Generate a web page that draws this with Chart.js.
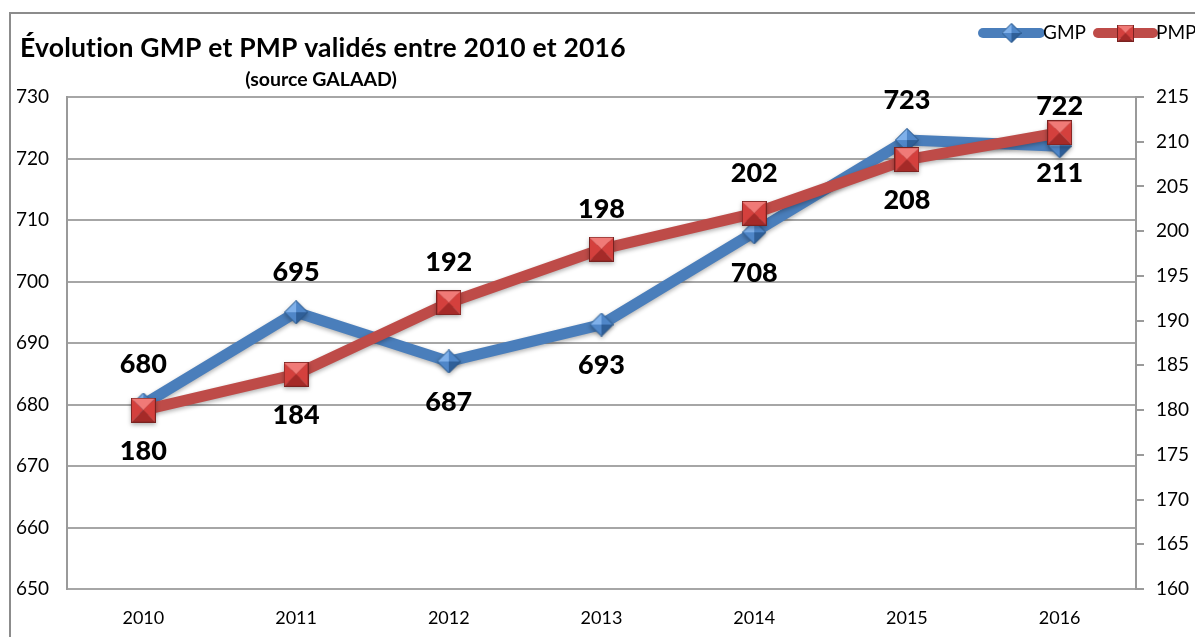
<!DOCTYPE html>
<html>
<head>
<meta charset="utf-8">
<script src="https://cdn.jsdelivr.net/npm/chart.js@4/dist/chart.umd.min.js"></script>
<style>
  html, body { margin: 0; padding: 0; background: #fff; }
  #wrap { width: 1195px; height: 637px; }
</style>
</head>
<body>
<div id="wrap"><canvas id="chart"></canvas></div>
<script>
(function () {
    "use strict";

    const years = ["2010", "2011", "2012", "2013", "2014", "2015", "2016"];
    const gmpValues = [680, 695, 687, 693, 708, 723, 722];
    const pmpValues = [180, 184, 192, 198, 202, 208, 211];
    const gmpLabelSide = ["above", "above", "below", "below", "below", "above", "above"];
    const pmpLabelSide = ["below", "below", "above", "above", "above", "below", "below"];

    const FONT = "Lato, Carlito, 'Open Sans', sans-serif";
    const BLUE = "#4a7ebb";
    const RED = "#be4b48";

    // beveled markers, like the office-style ones
    function makeMarker(shape, size, light, mid, dark, edge) {
        const c = document.createElement("canvas");
        c.width = size;
        c.height = size;
        const g = c.getContext("2d");
        const h = size / 2;
        const tri = (pts, color) => {
            g.beginPath();
            g.moveTo(pts[0], pts[1]);
            g.lineTo(pts[2], pts[3]);
            g.lineTo(h, h);
            g.closePath();
            g.fillStyle = color;
            g.fill();
        };
        if (shape === "square") {
            tri([0, 0, size, 0], light);
            tri([0, 0, 0, size], mid);
            tri([size, 0, size, size], mid);
            tri([0, size, size, size], dark);
            g.strokeStyle = edge;
            g.lineWidth = 1;
            g.strokeRect(0.5, 0.5, size - 1, size - 1);
        } else {
            tri([h, 0, 0, h], light);
            tri([h, 0, size, h], mid);
            tri([size, h, h, size], dark);
            tri([0, h, h, size], mid);
            g.beginPath();
            g.moveTo(h, 0.5);
            g.lineTo(size - 0.5, h);
            g.lineTo(h, size - 0.5);
            g.lineTo(0.5, h);
            g.closePath();
            g.strokeStyle = edge;
            g.lineWidth = 1;
            g.stroke();
        }
        return c;
    }

    const diamond = makeMarker("diamond", 24, "#7fb0ea", "#4f86c8", "#2f5f98", "#2a5686");
    const square = makeMarker("square", 25, "#f07a77", "#d4403d", "#a52a28", "#7a2220");
    const diamondSmall = makeMarker("diamond", 20, "#7fb0ea", "#4f86c8", "#2f5f98", "#2a5686");
    const squareSmall = makeMarker("square", 17, "#f07a77", "#d4403d", "#a52a28", "#7a2220");

    const framePlugin = {
        id: "frame",
        beforeDraw(chart) {
            const ctx = chart.ctx;
            ctx.save();
            ctx.fillStyle = "#fff";
            ctx.fillRect(0, 0, chart.width, chart.height);
            ctx.strokeStyle = "#8c8c8c";
            ctx.lineWidth = 2;
            ctx.strokeRect(10, 13, chart.width + 20, chart.height + 20);
            ctx.restore();
        },
        afterDraw(chart) {
            const ctx = chart.ctx;
            ctx.save();
            ctx.fillStyle = "#000";
            ctx.textBaseline = "middle";
            ctx.textAlign = "left";
            ctx.font = "bold 26.5px " + FONT;
            ctx.letterSpacing = "0.2px";
            ctx.fillText("Évolution GMP et PMP validés entre 2010 et 2016", 20, 48);
            ctx.font = "bold 19.5px " + FONT;
            ctx.letterSpacing = "0px";
            ctx.textAlign = "center";
            ctx.fillText("(source GALAAD)", 321, 80);

            // legend
            const items = [
                { label: "GMP", color: BLUE, img: diamondSmall, x0: 983, x1: 1040 },
                { label: "PMP", color: RED, img: squareSmall, x0: 1098, x1: 1153 }
            ];
            const ly = 33;
            items.forEach((it) => {
                ctx.strokeStyle = it.color;
                ctx.lineWidth = 10;
                ctx.lineCap = "round";
                ctx.beginPath();
                ctx.moveTo(it.x0, ly);
                ctx.lineTo(it.x1, ly);
                ctx.stroke();
                const cx = (it.x0 + it.x1) / 2;
                ctx.drawImage(it.img, cx - it.img.width / 2, ly - it.img.height / 2);
                ctx.font = "19px " + FONT;
                ctx.textAlign = "left";
                ctx.fillStyle = "#000";
                ctx.fillText(it.label, it.x1 + 3, ly);
            });
            ctx.restore();
        }
    };

    const shadowPlugin = {
        id: "lineShadow",
        beforeDatasetDraw(chart) {
            const ctx = chart.ctx;
            ctx.save();
            ctx.shadowColor = "rgba(0,0,0,0.3)";
            ctx.shadowBlur = 4;
            ctx.shadowOffsetY = 2;
        },
        afterDatasetDraw(chart) {
            chart.ctx.restore();
        }
    };

    const valueLabels = {
        id: "valueLabels",
        afterDatasetsDraw(chart) {
            const ctx = chart.ctx;
            ctx.save();
            ctx.font = "900 27px " + FONT;
            ctx.fillStyle = "#000";
            ctx.textAlign = "center";
            ctx.textBaseline = "middle";
            chart.data.datasets.forEach((ds, di) => {
                const meta = chart.getDatasetMeta(di);
                meta.data.forEach((pt, i) => {
                    const dy = ds.labelSide[i] === "above" ? -40 : 41;
                    ctx.fillText(String(ds.data[i]), pt.x, pt.y + dy);
                });
            });
            ctx.restore();
        }
    };

    const tickFont = { family: FONT, size: 19 };

    new Chart(document.getElementById("chart"), {
        type: "line",
        data: {
            labels: years,
            datasets: [
                {
                    label: "GMP",
                    data: gmpValues,
                    labelSide: gmpLabelSide,
                    yAxisID: "y",
                    borderColor: BLUE,
                    borderWidth: 11,
                    borderJoinStyle: "round",
                    pointStyle: diamond,
                    pointRadius: 12,
                    tension: 0,
                    order: 2
                },
                {
                    label: "PMP",
                    data: pmpValues,
                    labelSide: pmpLabelSide,
                    yAxisID: "y1",
                    borderColor: RED,
                    borderWidth: 11,
                    borderJoinStyle: "round",
                    pointStyle: square,
                    pointRadius: 12,
                    tension: 0,
                    order: 1
                }
            ]
        },
        options: {
            responsive: true,
            maintainAspectRatio: false,
            animation: false,
            layout: {
                padding: { left: 16, top: 97, right: 0, bottom: 0 }
            },
            plugins: {
                legend: { display: false },
                tooltip: { enabled: false }
            },
            scales: {
                x: {
                    offset: true,
                    grid: { display: false, drawTicks: false },
                    border: { display: false },
                    ticks: { font: { family: FONT, size: 18 }, color: "#000", padding: 18 },
                    afterFit: (s) => { s.height = 48; }
                },
                y: {
                    position: "left",
                    min: 650,
                    max: 730,
                    ticks: { stepSize: 10, font: tickFont, color: "#000", crossAlign: "far", padding: 0 },
                    grid: { color: "#a6a6a6", lineWidth: 2, drawTicks: false },
                    border: { color: "#9a9a9a", width: 2 },
                    afterFit: (s) => { s.width = 51; }
                },
                y1: {
                    position: "right",
                    min: 160,
                    max: 215,
                    ticks: { stepSize: 5, font: tickFont, color: "#000", padding: 12 },
                    grid: { drawOnChartArea: false, tickLength: 8, color: "#9a9a9a", lineWidth: 2 },
                    border: { color: "#9a9a9a", width: 2 },
                    afterFit: (s) => { s.width = 59; }
                }
            }
        },
        plugins: [framePlugin, shadowPlugin, valueLabels]
    });
})();
</script>
</body>
</html>
